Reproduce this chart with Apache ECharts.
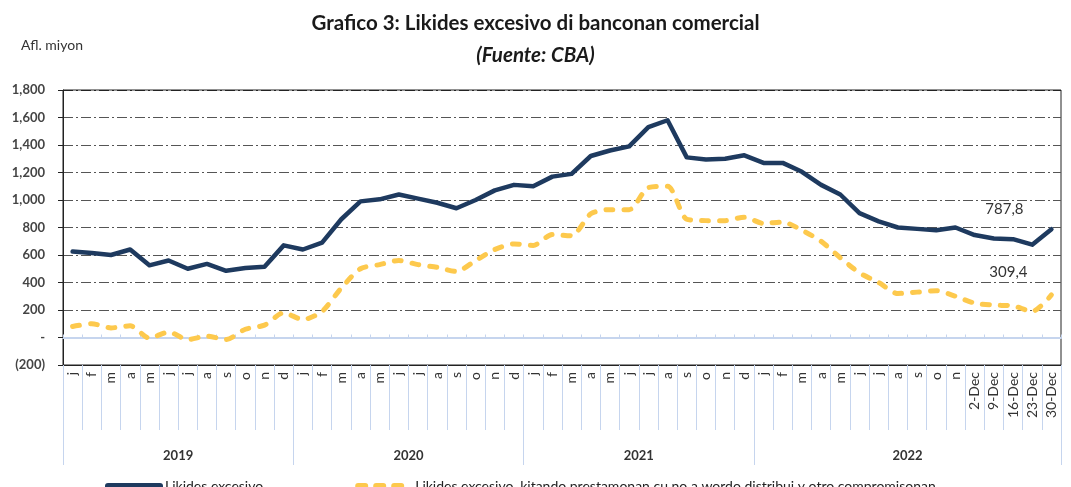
<!DOCTYPE html>
<html>
<head>
<meta charset="utf-8">
<script src="https://cdn.jsdelivr.net/npm/echarts@6/dist/echarts.min.js"></script>
<style>
  html, body { margin: 0; padding: 0; background: #fff; }
  #main { width: 1071px; height: 487px; }
</style>
</head>
<body>
<div id="main"></div>
<script>
// categorias: meses 2019-2022, despues semanas di december 2022
var categories = [
  'j', 'f', 'm', 'a', 'm', 'j', 'j', 'a', 's', 'o', 'n', 'd',
  'j', 'f', 'm', 'a', 'm', 'j', 'j', 'a', 's', 'o', 'n', 'd',
  'j', 'f', 'm', 'a', 'm', 'j', 'j', 'a', 's', 'o', 'n', 'd',
  'j', 'f', 'm', 'a', 'm', 'j', 'j', 'a', 's', 'o', 'n',
  '2-Dec', '9-Dec', '16-Dec', '23-Dec', '30-Dec'
];
var years = ['2019', '2020', '2021', '2022'];
var yearCounts = [12, 12, 12, 16];

var likidesExcesivo = [
  625, 615, 600, 640, 525, 560, 500, 535, 485, 505, 515, 670,
  640, 690, 860, 990, 1005, 1040, 1010, 980, 940, 1000, 1070, 1110,
  1100, 1170, 1190, 1320, 1360, 1390, 1530, 1580, 1310, 1295, 1300, 1325,
  1270, 1270, 1205, 1110, 1040, 905, 845, 800, 790, 780, 800,
  745, 720, 715, 675, 787.8
];
var likidesKitando = [
  80, 100, 70, 85, -5, 40, -15, 10, -15, 60, 90, 180,
  130, 190, 360, 500, 530, 560, 530, 510, 480, 560, 640, 680,
  670, 750, 740, 900, 930, 930, 1090, 1100, 860, 850, 850, 875,
  830, 840, 780, 700, 580, 470, 400, 320, 330, 340, 300,
  250, 235, 230, 190, 309.4
];
var yTicks = { '-200': '(200)', '0': '-' };

var seriesNames = [
  'Likides excesivo',
  'Likides excesivo, kitando prestamonan cu no a wordo distribui y otro compromisonan'
];

// posicion di label di aña: meimei di cada grupo
var yearLabelAt = {};
var yearStarts = [0];
var acc = 0;
yearCounts.forEach(function (n, i) {
  yearLabelAt[acc + n / 2] = years[i];
  acc += n;
  yearStarts.push(acc);
});

function lastLabel(arr, offset) {
  return arr.map(function (v, i) {
    if (i !== arr.length - 1) return v;
    return {
      value: v,
      label: {
        show: true, position: 'top', offset: offset,
        formatter: String(v).replace('.', ','),
        fontFamily: 'Lato', fontSize: 15, color: '#333'
      }
    };
  });
}

var font = 'Lato';
var lightBlue = '#c6d5ee';

var myChart = echarts.init(document.getElementById('main'));
myChart.setOption({
  animation: false,
  title: [
    { text: 'Grafico 3: Likides excesivo di banconan comercial', left: 'center', top: 8,
      textStyle: { fontFamily: font, fontSize: 20.5, fontWeight: 'bold', color: '#1a1a1a' } },
    { text: '(Fuente: CBA)', left: 'center', top: 40,
      textStyle: { fontFamily: font, fontSize: 20.5, fontWeight: 'bold', fontStyle: 'italic', color: '#1a1a1a' } },
    { text: 'Afl. miyon', left: 16, top: 33,
      textStyle: { fontFamily: font, fontSize: 14, fontWeight: 'normal', color: '#333' } }
  ],
  legend: {
    left: 100, top: 474, itemWidth: 52, itemHeight: 12, itemGap: 92,
    textStyle: { fontFamily: font, fontSize: 14, color: '#222' },
    itemStyle: { opacity: 0 },
    lineStyle: { width: 6 },
    data: seriesNames
  },
  grid: {
    left: 63, right: 10, top: 90, bottom: 122,
    show: true, borderColor: '#222', borderWidth: 1
  },
  xAxis: [
    {
      type: 'category', data: categories, position: 'bottom',
      axisLine: { onZero: false, lineStyle: { color: '#222' } },
      axisTick: { show: true, interval: 0, length: 65, lineStyle: { color: lightBlue } },
      axisLabel: { interval: 0, rotate: 90, margin: 7, fontFamily: font, fontSize: 14, color: '#333' }
    },
    {
      type: 'category', data: categories,
      axisLine: { onZero: true, lineStyle: { color: lightBlue, width: 2 } },
      axisTick: { show: true, interval: 0, length: 3, lineStyle: { color: lightBlue } },
      axisLabel: { show: false }
    },
    {
      type: 'category', data: categories, position: 'bottom',
      axisLine: { show: false, onZero: false },
      axisTick: {
        show: true, length: 100, lineStyle: { color: lightBlue },
        interval: function (i) { return yearStarts.indexOf(i) !== -1; }
      },
      axisLabel: { show: false }
    },
    {
      type: 'value', min: 0, max: categories.length, interval: 2, position: 'bottom',
      axisLine: { show: false, onZero: false },
      axisTick: { show: false },
      splitLine: { show: false },
      axisLabel: {
        margin: 84, fontFamily: font, fontSize: 13, fontWeight: 'bold', color: '#333',
        formatter: function (v) { return yearLabelAt[v] || ''; }
      }
    }
  ],
  yAxis: {
    type: 'value', min: -200, max: 1800, interval: 200,
    axisLine: { show: true, lineStyle: { color: '#222' } },
    axisTick: { show: true, length: 5, lineStyle: { color: '#222' } },
    axisLabel: {
      margin: 18, fontFamily: font, fontSize: 13, fontWeight: 'bold', color: '#444',
      formatter: function (v) {
        if (yTicks[v] !== undefined) return yTicks[v];
        return v.toLocaleString('en-US');
      }
    },
    splitLine: {
      show: true,
      lineStyle: {
        color: ['transparent', 'transparent', '#555', '#555', '#555', '#555', '#555', '#555', '#555', '#555', '#222'],
        type: [10, 3, 2, 3], width: 1
      }
    }
  },
  series: [
    {
      name: seriesNames[0], type: 'line', xAxisIndex: 0,
      symbol: 'circle', symbolSize: 0, showSymbol: true,
      lineStyle: { color: '#1e3a5f', width: 4.5, cap: 'round', join: 'round' },
      itemStyle: { color: '#1e3a5f' },
      data: lastLabel(likidesExcesivo, [-47, -8]),
      z: 3
    },
    {
      name: seriesNames[1], type: 'line', xAxisIndex: 0,
      symbol: 'circle', symbolSize: 0, showSymbol: true, smooth: 0.25,
      lineStyle: { color: '#fdc94d', width: 5, type: [7, 11], cap: 'round', join: 'round' },
      itemStyle: { color: '#fdc94d' },
      data: lastLabel(likidesKitando, [-43, -10]),
      z: 2
    }
  ]
});
</script>
</body>
</html>
